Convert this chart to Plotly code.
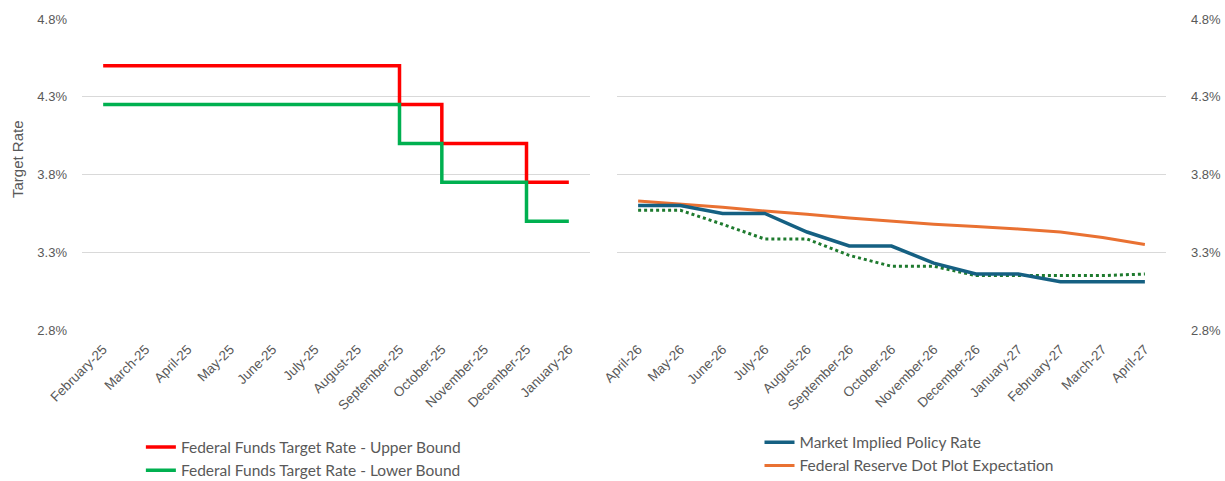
import plotly.graph_objects as go
from plotly.subplots import make_subplots

left_months = ["February-25", "March-25", "April-25", "May-25", "June-25", "July-25",
               "August-25", "September-25", "October-25", "November-25", "December-25", "January-26"]
upper_bound = [4.50, 4.50, 4.50, 4.50, 4.50, 4.50, 4.50, 4.25, 4.00, 4.00, 3.75, 3.75]
lower_bound = [4.25, 4.25, 4.25, 4.25, 4.25, 4.25, 4.25, 4.00, 3.75, 3.75, 3.50, 3.50]

right_months = ["April-26", "May-26", "June-26", "July-26", "August-26", "September-26",
                "October-26", "November-26", "December-26", "January-27", "February-27",
                "March-27", "April-27"]
market_implied = [3.60, 3.60, 3.55, 3.55, 3.43, 3.34, 3.34, 3.23, 3.16, 3.16, 3.11, 3.11, 3.11]
dot_plot = [3.63, 3.61, 3.59, 3.565, 3.545, 3.52, 3.50, 3.48, 3.465, 3.45, 3.43, 3.395, 3.35]
prior_implied = [3.57, 3.57, 3.48, 3.385, 3.385, 3.28, 3.21, 3.21, 3.15, 3.15, 3.15, 3.15, 3.16]

y_ticks = [2.8, 3.3, 3.8, 4.3, 4.8]
y_tick_labels = ["2.8%", "3.3%", "3.8%", "4.3%", "4.8%"]

GRAY = "#595959"
GRID = "#D9D9D9"
TICK_FONT = dict(family="Liberation Sans, Arial, sans-serif", size=13, color=GRAY)
LEG_FONT = dict(family="Lato, Open Sans, sans-serif", size=15.5, color=GRAY)

fig = make_subplots(rows=1, cols=2, horizontal_spacing=0.025)

fig.add_trace(go.Scatter(x=left_months, y=upper_bound, mode="lines", line_shape="hv",
                         line=dict(color="#FF0000", width=3.5),
                         name="Federal Funds Target Rate - Upper Bound", legend="legend"),
              row=1, col=1)
fig.add_trace(go.Scatter(x=left_months, y=lower_bound, mode="lines", line_shape="hv",
                         line=dict(color="#00B050", width=3.5),
                         name="Federal Funds Target Rate - Lower Bound", legend="legend"),
              row=1, col=1)

fig.add_trace(go.Scatter(x=right_months, y=dot_plot, mode="lines",
                         line=dict(color="#E97132", width=3),
                         name="Federal Reserve Dot Plot Expectation", legend="legend2"),
              row=1, col=2)
fig.add_trace(go.Scatter(x=right_months, y=prior_implied, mode="lines",
                         line=dict(color="#1E7A2E", width=3, dash="dot"),
                         name="Prior Market Implied", showlegend=False),
              row=1, col=2)
fig.add_trace(go.Scatter(x=right_months, y=market_implied, mode="lines",
                         line=dict(color="#156082", width=3.5),
                         name="Market Implied Policy Rate", legend="legend2"),
              row=1, col=2)

ml, mr = 82, 59
W = 1225 - ml - mr
fig.update_xaxes(domain=[0, (590 - ml) / W], row=1, col=1)
fig.update_xaxes(domain=[(617 - ml) / W, 1], row=1, col=2)

for c, n in ((1, len(left_months)), (2, len(right_months))):
    fig.update_xaxes(row=1, col=c, range=[-0.5, n - 0.5], tickangle=-45,
                     tickfont=dict(family="Liberation Sans, Arial, sans-serif", size=13.5, color=GRAY),
                     showgrid=False, showline=False, ticks="", zeroline=False, automargin=False,
                     ticklabelstandoff=8)
    fig.update_yaxes(row=1, col=c, range=[2.8, 4.8], tickvals=y_ticks, ticktext=y_tick_labels,
                     tickfont=TICK_FONT, automargin=False,
                     showgrid=True, gridcolor=GRID, gridwidth=1, zeroline=False,
                     showline=False, ticks="")

fig.update_yaxes(row=1, col=1, ticklabelstandoff=14)
fig.update_yaxes(row=1, col=2, side="right", showticklabels=True, ticklabelstandoff=24)

fig.update_layout(
    width=1225, height=481,
    margin=dict(l=ml, r=mr, t=19, b=151, autoexpand=False),
    plot_bgcolor="white", paper_bgcolor="white",
    legend=dict(xref="container", yref="container", x=0.115, y=0.105,
                xanchor="left", yanchor="top", font=LEG_FONT, tracegroupgap=0,
                bgcolor="rgba(0,0,0,0)", traceorder="normal"),
    legend2=dict(xref="container", yref="container", x=0.62, y=0.115,
                 xanchor="left", yanchor="top", font=LEG_FONT, tracegroupgap=0,
                 bgcolor="rgba(0,0,0,0)", traceorder="reversed"),
    annotations=[dict(text="Target Rate", textangle=-90, showarrow=False,
                      xref="paper", yref="paper", x=-(82 - 17) / W, y=(330 - 159) / 311,
                      xanchor="center", yanchor="middle",
                      font=dict(family="Liberation Sans, Arial, sans-serif", size=15, color=GRAY))],
)

fig.write_html("out.html")
